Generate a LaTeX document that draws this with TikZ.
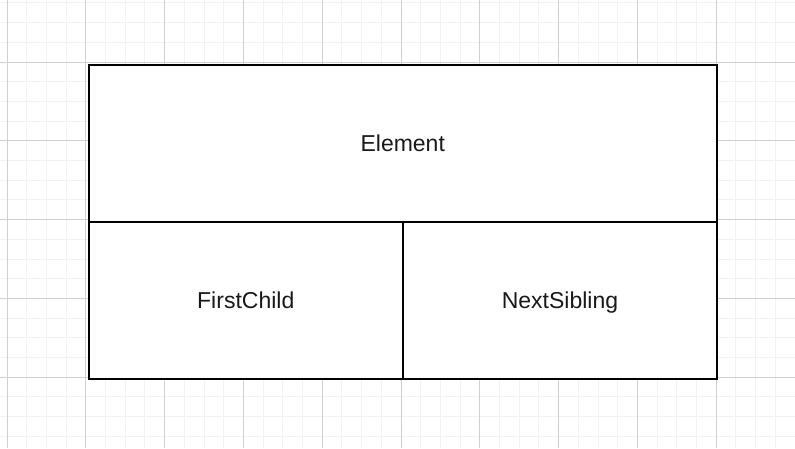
\documentclass[tikz,border=0pt]{standalone}
\usepackage{fontspec}
\setmainfont{Liberation Sans}
\definecolor{minorgrid}{HTML}{F2F2F2}
\definecolor{majorgrid}{HTML}{D0D0D0}
\begin{document}
\begin{tikzpicture}[x=1pt,y=-1pt,
  minorline/.style={draw=minorgrid,line width=1pt},
  majorline/.style={draw=majorgrid,line width=1pt},
  cell/.style={draw=black,line width=2pt,fill=white,inner sep=0pt,outer sep=0pt,
    font=\fontsize{23}{27}\selectfont,text=black!90,text height=16.5pt,text depth=0pt}]
\useasboundingbox[fill=white] (0,0) rectangle (795,448);
\foreach \i in {0,...,41} {
  \draw[minorline] ({-12.7+\i*19.7},0) -- ({-12.7+\i*19.7},448);
}
\foreach \i in {0,...,23} {
  \draw[minorline] (0,{2.9+\i*19.7}) -- (795,{2.9+\i*19.7});
}
\foreach \i in {0,...,10} {
  \draw[majorline] ({7+\i*78.8},0) -- ({7+\i*78.8},448);
}
\foreach \i in {0,...,5} {
  \draw[majorline] (0,{-16.8+\i*78.8}) -- (795,{-16.8+\i*78.8});
}
\node[cell,minimum width=628.5pt,minimum height=156.5pt] (element) at (402.75,143.25) {Element};
\node[cell,minimum width=314.5pt,minimum height=157pt] (firstchild) at (245.75,300) {FirstChild};
\node[cell,minimum width=314pt,minimum height=157pt] (nextsibling) at (560,300) {NextSibling};
\end{tikzpicture}
\end{document}
